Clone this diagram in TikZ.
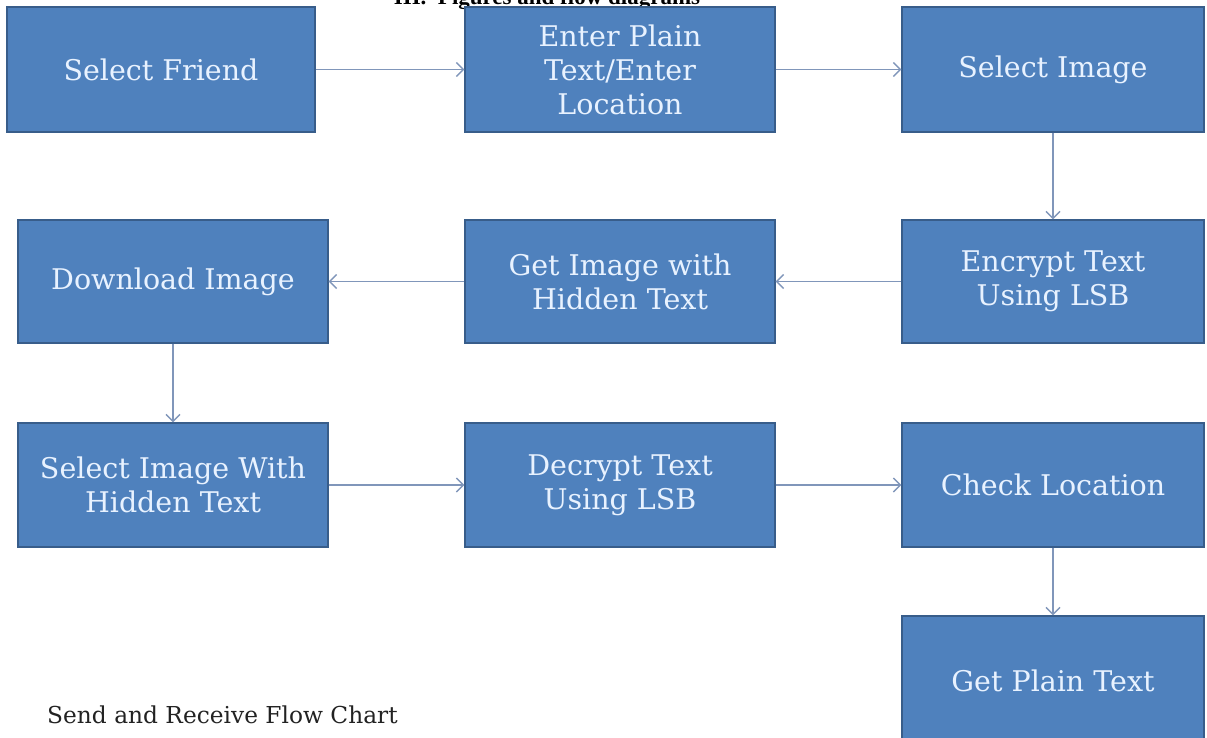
\documentclass[tikz,border=0pt]{standalone}
\usepackage{fontspec}
\setmainfont{DejaVu Serif}
\newfontfamily\titlefont{Liberation Serif}
\usetikzlibrary{arrows.meta}
\definecolor{boxfill}{RGB}{79,129,189}
\definecolor{boxline}{RGB}{56,93,138}
\definecolor{boxtext}{RGB}{232,242,255}
\definecolor{arrowcol}{RGB}{128,150,186}
\definecolor{captcol}{RGB}{34,34,34}
\begin{document}
\begin{tikzpicture}[x=1pt,y=-1pt,
  flowbox/.style={draw=boxline, line width=1.2pt, fill=boxfill, text=boxtext,
    align=center, inner sep=0pt, font=\fontsize{28.5}{34}\selectfont},
  flowarrow/.style={draw=arrowcol, line width=1.4pt,
    -{Straight Barb[length=7pt,width=14pt]}}]
\useasboundingbox (0,0) rectangle (1207,737);
\clip (0,0) rectangle (1207,737);
% title (cut off at top)
\node[anchor=base, inner sep=0pt, font=\titlefont\bfseries\fontsize{23}{28}\selectfont] (title) at (547,4) {III.~~Figures and flow diagrams};
% row 1
\node[flowbox, minimum width=308pt, minimum height=125pt] (a) at (161,69.5) {Select Friend};
\node[flowbox, minimum width=310pt, minimum height=125pt] (b) at (620,69.5) {Enter Plain\\Text/Enter\\Location};
\node[flowbox, minimum width=302pt, minimum height=125pt] (c) at (1053,69.5) {Select Image};
% row 2
\node[flowbox, minimum width=302pt, minimum height=123pt] (d) at (1053,281.5) {Encrypt Text\\Using LSB};
\node[flowbox, minimum width=310pt, minimum height=123pt] (e) at (620,281.5) {Get Image with\\Hidden Text};
\node[flowbox, minimum width=310pt, minimum height=123pt] (f) at (173,281.5) {Download Image};
% row 3
\node[flowbox, minimum width=310pt, minimum height=124pt] (g) at (173,485) {Select Image With\\Hidden Text};
\node[flowbox, minimum width=310pt, minimum height=124pt] (h) at (620,485) {Decrypt Text\\Using LSB};
\node[flowbox, minimum width=302pt, minimum height=124pt] (i) at (1053,485) {Check Location};
% row 4
\node[flowbox, minimum width=302pt, minimum height=129pt] (j) at (1053,680.5) {Get Plain Text};
% caption
\node[anchor=base west, inner sep=0pt, text=captcol, font=\fontsize{23.3}{28}\selectfont] (cap) at (47,723) {Send and Receive Flow Chart};
% connectors
\draw[flowarrow] (a) -- (b);
\draw[flowarrow] (b) -- (c);
\draw[flowarrow] (c) -- (d);
\draw[flowarrow] (d) -- (e);
\draw[flowarrow] (e) -- (f);
\draw[flowarrow] (f) -- (g);
\draw[flowarrow] (g) -- (h);
\draw[flowarrow] (h) -- (i);
\draw[flowarrow] (i) -- (j);
\end{tikzpicture}
\end{document}
